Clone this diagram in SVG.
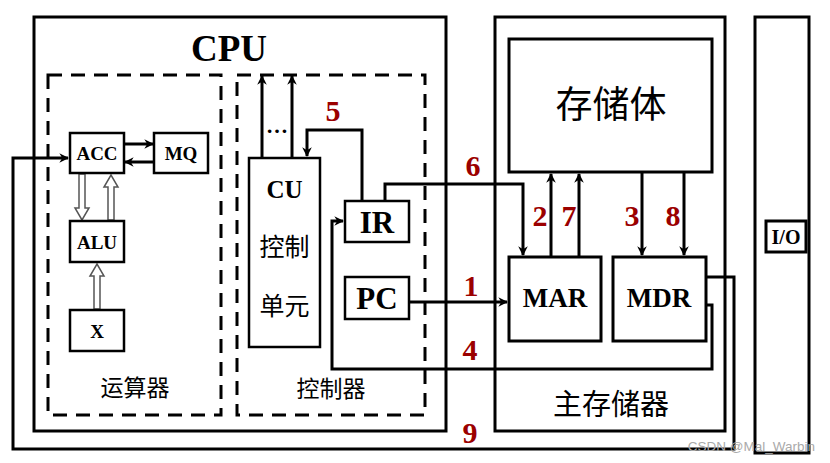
<svg xmlns="http://www.w3.org/2000/svg" width="830" height="463" viewBox="0 0 830 463">
<defs>
<marker id="ah" viewBox="0 0 10 10" refX="9" refY="5" markerWidth="3.2" markerHeight="3.2" orient="auto" markerUnits="strokeWidth">
<path d="M0,0 L10,5 L0,10 L3,5 Z" fill="#000"/>
</marker>
</defs>
<style>
.box{fill:#fff;stroke:#000;stroke-width:3}
.thin{fill:#fff;stroke:#000;stroke-width:2.5}
.dash{fill:none;stroke:#000;stroke-width:3;stroke-dasharray:14 9}
.ln{fill:none;stroke:#000;stroke-width:3}
.ar{fill:none;stroke:#000;stroke-width:3;marker-end:url(#ah)}
.hol{fill:#fff;stroke:#555;stroke-width:1.5}
.en{font-family:"Liberation Serif","Times New Roman",serif;font-weight:bold;text-anchor:middle;fill:#000}
.zh{font-family:"Noto Sans CJK SC","Liberation Serif",sans-serif;text-anchor:middle;fill:#000}
.num{font-family:"Liberation Serif","Times New Roman",serif;font-weight:bold;text-anchor:middle;fill:#9b0000;font-size:30px}
</style>
<rect width="830" height="463" fill="#fff"/>

<g id="cpu">
<rect class="box" x="34" y="17" width="412" height="414"/>
<text class="en" x="229" y="61" font-size="37">CPU</text>
</g>
<g id="alu-unit">
<rect class="dash" x="48" y="75" width="173" height="340"/>
<text class="zh" x="135" y="396" font-size="23">运算器</text>
</g>
<g id="ctrl-unit">
<rect class="dash" x="237" y="75" width="188" height="340"/>
<text class="zh" x="331" y="397" font-size="23">控制器</text>
</g>
<g id="memory">
<rect class="box" x="495" y="17" width="230" height="414"/>
<text class="zh" x="611" y="415" font-size="29">主存储器</text>
</g>
<g id="io-bus">
<rect class="box" x="755" y="17" width="54" height="436"/>
</g>

<g id="connectors">
<!-- ACC <-> MQ -->
<line class="ar" x1="124" y1="144" x2="153" y2="144"/>
<line class="ar" x1="154" y1="162" x2="125" y2="162"/>
<!-- hollow arrows -->
<path class="hol" d="M79,174 V208 H75 L82,220 L89,208 H85 V174 Z"/>
<path class="hol" d="M108,220 V187 H104 L111,175 L118,187 H114 V220 Z"/>
<path class="hol" d="M94,309 V276 H90 L97,264 L104,276 H100 V309 Z"/>
<!-- CU up arrows -->
<line class="ar" x1="262" y1="158" x2="262" y2="76"/>
<line class="ar" x1="292" y1="158" x2="292" y2="76"/>
<!-- 5: IR -> CU -->
<polyline class="ar" points="362,201 362,130 307,130 307,156"/>
<!-- 6: IR -> MAR -->
<polyline class="ar" points="385,201 385,184 523,184 523,255"/>
<!-- 1: PC -> MAR -->
<line class="ar" x1="409" y1="302" x2="507" y2="302"/>
<!-- 2, 7: MAR -> memory -->
<line class="ar" x1="551" y1="257" x2="551" y2="174"/>
<line class="ar" x1="579" y1="257" x2="579" y2="174"/>
<!-- 3, 8: memory -> MDR -->
<line class="ar" x1="642" y1="172" x2="642" y2="255"/>
<line class="ar" x1="684" y1="172" x2="684" y2="255"/>
<!-- 4: MDR -> IR -->
<polyline class="ar" points="706,305 712,305 712,369 332,369 332,221 343,221"/>
<!-- 9: MDR -> ACC -->
<polyline class="ar" points="706,277 734,277 734,449 13,449 13,158 68,158"/>
</g>

<g id="acc"><rect class="thin" x="70" y="133" width="54" height="40"/><text class="en" x="97" y="160" font-size="19">ACC</text></g>
<g id="mq"><rect class="thin" x="154" y="133" width="54" height="40"/><text class="en" x="181" y="160" font-size="19">MQ</text></g>
<g id="alu"><rect class="thin" x="70" y="221" width="54" height="41"/><text class="en" x="97" y="249" font-size="19">ALU</text></g>
<g id="x"><rect class="thin" x="70" y="310" width="54" height="41"/><text class="en" x="97" y="338" font-size="19">X</text></g>

<g id="cu">
<rect class="thin" x="249" y="158" width="71" height="189"/>
<text class="en" x="284.5" y="198" font-size="25">CU</text>
<text class="zh" x="284.5" y="256" font-size="25">控制</text>
<text class="zh" x="284.5" y="315" font-size="25">单元</text>
</g>
<text class="en" x="277" y="133" font-size="22">…</text>

<g id="ir"><rect class="thin" x="345" y="201" width="64" height="41"/><text class="en" x="377" y="233" font-size="31">IR</text></g>
<g id="pc"><rect class="thin" x="345" y="277" width="64" height="42"/><text class="en" x="377" y="309" font-size="31">PC</text></g>

<g id="storage"><rect class="box" x="509" y="39" width="203" height="133"/><text class="zh" x="611" y="118" font-size="37">存储体</text></g>
<g id="mar"><rect class="box" x="509" y="257" width="92" height="84"/><text class="en" x="555" y="307" font-size="27">MAR</text></g>
<g id="mdr"><rect class="box" x="613" y="257" width="93" height="84"/><text class="en" x="659" y="307" font-size="27">MDR</text></g>
<g id="io"><rect class="box" x="766" y="221" width="40" height="31"/><text class="en" x="786" y="244" font-size="20">I/O</text></g>

<g id="labels">
<text class="num" x="333" y="121">5</text>
<text class="num" x="473" y="176">6</text>
<text class="num" x="471" y="296">1</text>
<text class="num" x="470" y="360">4</text>
<text class="num" x="470" y="443">9</text>
<text class="num" x="540" y="226">2</text>
<text class="num" x="569" y="226">7</text>
<text class="num" x="632" y="226">3</text>
<text class="num" x="673" y="226">8</text>
</g>
<text x="815" y="451" font-family="Liberation Sans,Arial,sans-serif" font-size="13.5" fill="#aaa" text-anchor="end">CSDN @Mal_Warbin</text>
</svg>
